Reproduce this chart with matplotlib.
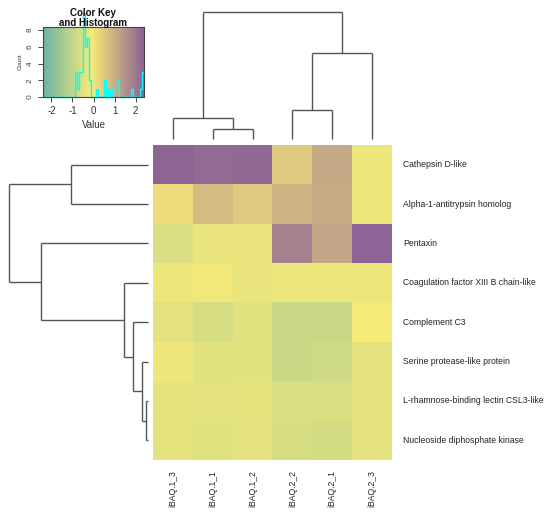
import numpy as np
import matplotlib
matplotlib.use("Agg")
import matplotlib.pyplot as plt
from matplotlib.colors import LinearSegmentedColormap
from matplotlib.transforms import offset_copy

plt.rcParams['font.family'] = ['Liberation Sans', 'DejaVu Sans']

# ---------------- data ----------------
proteins = ["Cathepsin D-like", "Alpha-1-antitrypsin homolog", "Pentaxin",
            "Coagulation factor XIII B chain-like", "Complement C3",
            "Serine protease-like protein", "L-rhamnose-binding lectin CSL3-like",
            "Nucleoside diphosphate kinase"]
samples = ["iBAQ.1_3", "iBAQ.1_1", "iBAQ.1_2", "iBAQ.2_2", "iBAQ.2_1", "iBAQ.2_3"]

cathepsin   = [2.38, 2.25, 2.30, 0.50, 1.10, -0.30]
alpha1      = [0.15, 0.75, 0.50, 0.90, 1.05, -0.25]
pentaxin    = [-0.60, -0.35, -0.35, 1.85, 1.15, 2.40]
coagulation = [-0.30, -0.20, -0.35, -0.25, -0.25, -0.30]
complement  = [-0.45, -0.65, -0.50, -0.90, -0.85, -0.15]
serine      = [-0.25, -0.50, -0.50, -0.85, -0.80, -0.45]
lrhamnose   = [-0.40, -0.45, -0.40, -0.60, -0.60, -0.45]
nucleoside  = [-0.40, -0.50, -0.45, -0.65, -0.70, -0.45]

values = np.array([cathepsin, alpha1, pentaxin, coagulation, complement,
                   serine, lrhamnose, nucleoside])

# dendrogram merges: (child a, child b, height); leaves are 0..n-1 in display order
row_merges = [(6, 7, 2), (5, 8, 6), (4, 9, 15), (3, 10, 24),
              (0, 1, 77), (2, 11, 107), (12, 13, 139)]
col_merges = [(1, 2, 10), (0, 6, 21), (3, 4, 29), (8, 5, 86), (7, 9, 127)]

key_ticks = [-2, -1, 0, 1, 2]
count_ticks = [0, 2, 4, 6, 8]

# ---------------- styling ----------------
VMIN, VMAX = -2.4, 2.4
cmap = LinearSegmentedColormap.from_list(
    "key",
    [(0.0, (110/255, 180/255, 165/255)),
     ((-0.1 - VMIN) / (VMAX - VMIN), (248/255, 235/255, 120/255)),
     (1.0, (140/255, 100/255, 150/255))])

W, H = 550, 515
fig = plt.figure(figsize=(W/100, H/100), dpi=100)


def px_axes(x0, y0, x1, y1):
    return fig.add_axes([x0/W, 1 - y1/H, (x1 - x0)/W, (y1 - y0)/H])


def dendro_segments(merges, n):
    pos = {i: float(i) for i in range(n)}
    hgt = {i: 0.0 for i in range(n)}
    segs = []
    for k, (a, b, h) in enumerate(merges):
        node = n + k
        segs.append(([pos[a], pos[a]], [hgt[a], h]))
        segs.append(([pos[b], pos[b]], [hgt[b], h]))
        segs.append(([pos[a], pos[b]], [h, h]))
        pos[node] = (pos[a] + pos[b]) / 2
        hgt[node] = h
    return segs


nrow, ncol = values.shape
line_col = "#555555"
text_col = "#222222"

# heatmap
axh = px_axes(153, 145, 392, 460)
axh.imshow(values, cmap=cmap, vmin=VMIN, vmax=VMAX, aspect="auto",
           interpolation="nearest", extent=(-0.5, ncol - 0.5, nrow - 0.5, -0.5))
axh.set_xlim(-0.5, ncol - 0.5)
axh.set_ylim(nrow - 0.5, -0.5)
axh.axis("off")

tr_row = offset_copy(axh.transData, fig=fig, x=11, y=0, units="dots")
for i, name in enumerate(proteins):
    axh.text(ncol - 0.5, i, name, transform=tr_row, ha="left", va="center",
             fontsize=6.2, color=text_col)
tr_col = offset_copy(axh.transData, fig=fig, x=0, y=-10, units="dots")
for j, name in enumerate(samples):
    axh.text(j, nrow - 0.5, name, transform=tr_col, ha="center", va="top",
             rotation=90, fontsize=6.2, color=text_col)

# column dendrogram
axc = px_axes(153, 12, 392, 139)
for xs, ys in dendro_segments(col_merges, ncol):
    axc.plot(xs, ys, color=line_col, lw=1.0, clip_on=False, solid_capstyle="butt")
axc.set_xlim(-0.5, ncol - 0.5)
axc.set_ylim(0, 127)
axc.axis("off")

# row dendrogram
axr = px_axes(9, 145, 148, 460)
for ys, xs in dendro_segments(row_merges, nrow):
    axr.plot(xs, ys, color=line_col, lw=1.0, clip_on=False, solid_capstyle="butt")
axr.set_xlim(139, 0)
axr.set_ylim(nrow - 0.5, -0.5)
axr.axis("off")

# color key with histogram
axk = px_axes(43, 27, 144, 97)
ytop = 8.36
grad = np.linspace(VMIN, VMAX, 256).reshape(1, -1)
axk.imshow(grad, cmap=cmap, vmin=VMIN, vmax=VMAX, aspect="auto",
           extent=(VMIN, VMAX, 0, ytop), interpolation="bilinear")
breaks = np.linspace(VMIN, VMAX, 49)
counts, edges = np.histogram(values.ravel(), bins=breaks)
axk.step(edges, np.append(counts, counts[-1]), where="post", color="cyan", lw=1.0,
         clip_on=False)
axk.set_xlim(VMIN, VMAX)
axk.set_ylim(0, ytop)
axk.set_xticks(key_ticks)
axk.set_xticklabels([str(t) for t in key_ticks], fontsize=7, color="#333333")
axk.set_yticks(count_ticks)
axk.set_yticklabels([str(t) for t in count_ticks], fontsize=6, color="#333333",
                    rotation=90, va="center")
axk.tick_params(length=3.5, width=0.7, colors="#444444", pad=3)
axk.tick_params(axis="x", labelcolor="#333333")
for s in axk.spines.values():
    s.set_color("#444444")
    s.set_linewidth(0.8)
axk.set_xlabel("Value", fontsize=7, color="#333333", labelpad=3)
axk.set_ylabel("Count", fontsize=4.5, color="#333333", labelpad=3)

fig.text(93/W, 1 - 18/H, "Color Key\nand Histogram", ha="center", va="center",
         fontsize=7, fontweight="bold", color="#111111", linespacing=1.1)

fig.savefig("out.png", dpi=100, facecolor="white")
